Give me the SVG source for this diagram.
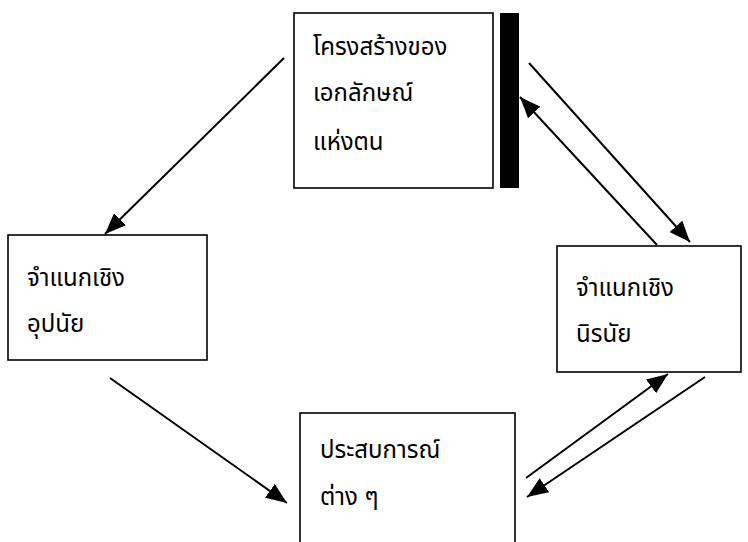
<svg xmlns="http://www.w3.org/2000/svg" width="748" height="542" viewBox="0 0 748 542">
<style>
.box{fill:#fff;stroke:#000;stroke-width:1.6}
.lbl{font-family:"Noto Sans Thai","Liberation Sans",sans-serif;font-size:24px;fill:#000}
.edge{stroke:#000;stroke-width:2;fill:none;marker-end:url(#ah)}
</style>
<defs>
<marker id="ah" viewBox="0 0 10 10" refX="10" refY="5" markerWidth="21" markerHeight="17" markerUnits="userSpaceOnUse" orient="auto" preserveAspectRatio="none">
<path d="M0,0 L10,5 L0,10 z" fill="#000"/>
</marker>
</defs>
<rect width="748" height="542" fill="#fff"/>
<g id="identity">
<rect class="box" x="294" y="13" width="199" height="175"/>
<rect x="500" y="13" width="19" height="175" fill="#000"/>
<text class="lbl" x="313" y="55">โครงสร้างของ</text>
<text class="lbl" x="313" y="101">เอกลักษณ์</text>
<text class="lbl" x="313" y="150">แห่งตน</text>
</g>
<g id="inductive">
<rect class="box" x="8" y="235" width="199" height="125"/>
<text class="lbl" x="27" y="286">จำแนกเชิง</text>
<text class="lbl" x="27" y="332">อุปนัย</text>
</g>
<g id="deductive">
<rect class="box" x="557" y="246" width="184" height="126"/>
<text class="lbl" x="576" y="296">จำแนกเชิง</text>
<text class="lbl" x="576" y="342">นิรนัย</text>
</g>
<g id="experience">
<rect class="box" x="300" y="413" width="215" height="140"/>
<text class="lbl" x="320" y="458">ประสบการณ์</text>
<text class="lbl" x="320" y="505">ต่าง ๆ</text>
</g>
<g id="connectors">
<line class="edge" x1="284" y1="58" x2="105" y2="234"/>
<line class="edge" x1="110" y1="378" x2="287" y2="503"/>
<line class="edge" x1="529" y1="63" x2="690" y2="242"/>
<line class="edge" x1="657" y1="245" x2="520" y2="97"/>
<line class="edge" x1="526" y1="478" x2="668" y2="374"/>
<line class="edge" x1="705" y1="377" x2="527" y2="497"/>
</g>
</svg>
